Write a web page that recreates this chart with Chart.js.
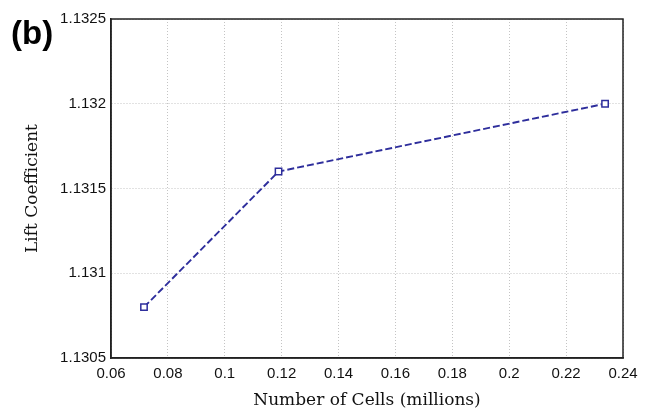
<!DOCTYPE html>
<html>
<head>
<meta charset="utf-8">
<script src="https://cdn.jsdelivr.net/npm/chart.js@4/dist/chart.umd.min.js"></script>
<style>
  html, body { margin: 0; padding: 0; background: #fff; }
  #wrap { position: relative; width: 645px; height: 411px; }
  #lbl { position: absolute; left: 11px; top: 14px; font: bold 33px "Liberation Sans", Arial, sans-serif; color: #000; }
</style>
</head>
<body>
<div id="wrap">
  <canvas id="c" width="645" height="411"></canvas>
  <div id="lbl">(b)</div>
</div>
<script>
const cellsMillions = [0.0716, 0.1189, 0.2337];
const liftCoefficient = [1.1308, 1.1316, 1.1320];
const xTickValues = [0.06, 0.08, 0.1, 0.12, 0.14, 0.16, 0.18, 0.2, 0.22, 0.24];
const yTickValues = [1.1305, 1.131, 1.1315, 1.132, 1.1325];
const xTitle = 'Number of Cells (millions)';
const yTitle = 'Lift Coefficient';

const points = cellsMillions.map((x, i) => ({ x: x, y: liftCoefficient[i] }));
const lineColor = '#2e2e9c';

const framePlugin = {
  id: 'frame',
  afterDraw(chart) {
    const a = chart.chartArea, ctx = chart.ctx;
    ctx.save();
    ctx.strokeStyle = '#222';
    ctx.lineWidth = 1.5;
    ctx.strokeRect(a.left, a.top, a.right - a.left, a.bottom - a.top);
    ctx.restore();
  }
};

const fmt = v => String(parseFloat(Number(v).toFixed(5)));

new Chart(document.getElementById('c'), {
  type: 'line',
  data: {
    datasets: [{
      data: points,
      borderColor: lineColor,
      borderWidth: 1.9,
      borderDash: [7, 3],
      pointStyle: 'rect',
      pointRadius: 4.5,
      pointBackgroundColor: '#fff',
      pointBorderColor: lineColor,
      pointBorderWidth: 1.5,
      tension: 0,
      fill: false
    }]
  },
  options: {
    responsive: false,
    animation: false,
    layout: { padding: { left: 20, top: 19, right: 22, bottom: 0 } },
    plugins: { legend: { display: false }, tooltip: { enabled: false } },
    scales: {
      x: {
        type: 'linear',
        min: 0.06, max: 0.24,
        afterBuildTicks: s => { s.ticks = xTickValues.map(v => ({ value: v })); },
        afterFit: s => { s.height = 53; },
        grid: { color: '#c4c4c4', drawTicks: false, lineWidth: 1 },
        border: { display: true, color: '#222', width: 1.5, dash: [1, 2] },
        ticks: {
          padding: 7,
          color: '#111',
          font: { family: '"Liberation Sans", Arial, sans-serif', size: 15 },
          callback: v => fmt(v),
          maxRotation: 0, autoSkip: false
        },
        title: {
          display: true, text: xTitle, color: '#111',
          font: { family: '"DejaVu Serif", serif', size: 17 },
          padding: { top: 3, bottom: 0 }
        }
      },
      y: {
        type: 'linear',
        min: 1.1305, max: 1.1325,
        afterBuildTicks: s => { s.ticks = yTickValues.map(v => ({ value: v })); },
        afterFit: s => { s.width = 111 - 20; },
        grid: { color: '#c4c4c4', drawTicks: false, lineWidth: 1 },
        border: { display: true, color: '#222', width: 1.5, dash: [1, 2] },
        ticks: {
          padding: 5,
          color: '#111',
          font: { family: '"Liberation Sans", Arial, sans-serif', size: 15 },
          callback: v => fmt(v),
          autoSkip: false
        },
        title: {
          display: true, text: yTitle, color: '#111',
          font: { family: '"DejaVu Serif", serif', size: 17 },
          padding: { top: 2, bottom: 0 }
        }
      }
    }
  },
  plugins: [framePlugin]
});
</script>
</body>
</html>
